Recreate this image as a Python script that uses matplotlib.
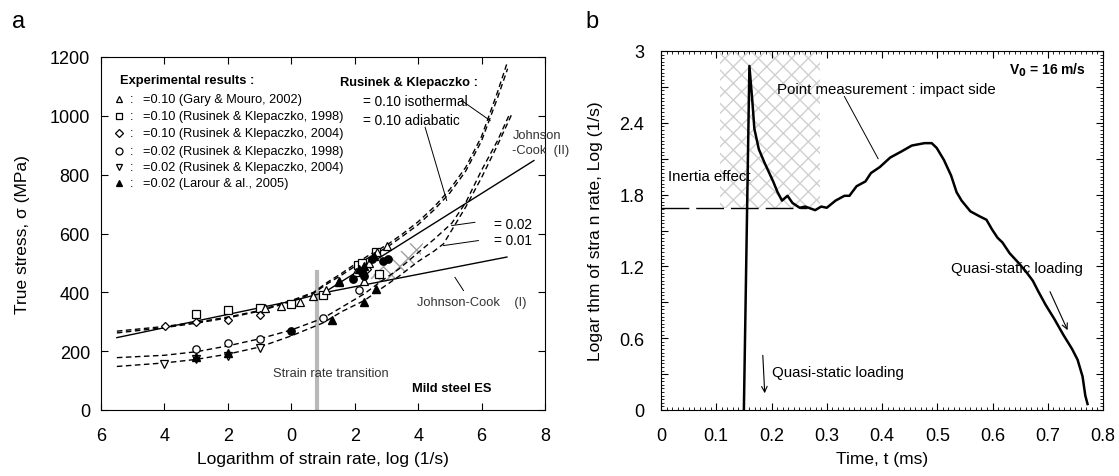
import matplotlib.pyplot as plt
from matplotlib.patches import Polygon, Rectangle
from matplotlib.ticker import MultipleLocator

plt.rcParams['font.family'] = ['Liberation Sans', 'DejaVu Sans']

# ---- panel a : experimental points (log strain rate, true stress MPa)
tri_x = [-0.84, -0.34, 0.28, 0.70, 1.08, 1.52, 2.05, 2.30, 2.71, 3.03, 2.45]
tri_y = [346, 352, 366, 386, 409, 440, 470, 440, 536, 559, 500]
sq_x = [-3.0, -2.0, -1.0, 0.0, 1.01, 2.1, 2.22, 2.66, 2.78]
sq_y = [326, 341, 347, 360, 391, 494, 500, 536, 461]
dia_x = [-3.99, -3.0, -1.99, -0.98, 2.4]
dia_y = [284, 300, 307, 323, 480]
circ_x = [-3.0, -2.0, -1.0, 1.0, 2.12]
circ_y = [207, 228, 241, 314, 408]
circf_x = [0.0, 1.96, 2.22, 2.3, 2.55, 2.9, 3.05]
circf_y = [269, 445, 468, 455, 514, 507, 513]
dtri_x = [-4.0, -3.0, -2.0, -1.0]
dtri_y = [158, 172, 182, 212]
trif_x = [-3.0, -2.0, 1.28, 1.52, 2.29, 2.67, 2.3, 2.6, 2.15]
trif_y = [181, 195, 307, 436, 368, 412, 489, 523, 480]

# model curves
jc1_x = [-5.5, 0.0, 1.0, 6.8]
jc1_y = [246, 370, 398, 520]
jc2_x = [1.0, 7.65]
jc2_y = [397, 848]
iso_x = [-5.5, -4, -3, -2, -1, 0, 0.7, 1.15, 1.55, 2.0, 2.5, 3.0, 3.5, 4.0,
         4.5, 5.0, 5.5, 6.0, 6.5, 6.8]
iso_y = [268, 284, 298, 316, 338, 372, 400, 435, 462, 495, 530, 560, 598, 640,
         690, 750, 825, 930, 1080, 1178]
adia_x = [-5.5, -4, -3, -2, -1, 0, 0.7, 1.15, 1.55, 2.0, 2.5, 3.0, 3.5, 4.0,
          4.5, 5.0, 5.5, 6.0, 6.5, 6.82]
adia_y = [262, 280, 295, 313, 336, 369, 397, 430, 456, 488, 522, 552, 590, 630,
          680, 738, 812, 915, 1060, 1160]
e02_x = [-5.5, -4, -3, -2, -1, 0, 1.0, 1.6, 2.3, 2.8, 3.4, 4.0, 4.5, 5.06, 5.5,
         6.0, 6.5, 6.9]
e02_y = [178, 186, 198, 218, 242, 272, 312, 350, 395, 435, 480, 535, 580, 635,
         705, 815, 915, 1010]
e01_x = [-5.5, -4, -3, -2, -1, 0, 1.0, 1.6, 2.3, 2.8, 3.4, 4.0, 4.5, 4.8, 5.5,
         6.0, 6.5, 6.95]
e01_y = [148, 160, 172, 190, 214, 252, 296, 335, 372, 410, 455, 505, 540, 565,
         690, 790, 900, 1005]

hatch_x = [2.48, 3.85, 4.17, 4.06, 3.22, 2.6]
hatch_y = [451, 576, 576, 513, 440, 434]

legend_labels = ['=0.10 (Gary & Mouro, 2002)',
                 '=0.10 (Rusinek & Klepaczko, 1998)',
                 '=0.10 (Rusinek & Klepaczko, 2004)',
                 '=0.02 (Rusinek & Klepaczko, 1998)',
                 '=0.02 (Rusinek & Klepaczko, 2004)',
                 '=0.02 (Larour & al., 2005)']
legend_markers = ['^', 's', 'D', 'o', 'v', '^']
legend_filled = [False, False, False, False, False, True]
legend_y = [1057, 999, 940, 882, 827, 771]

xticks_a = [-6, -4, -2, 0, 2, 4, 6, 8]
xticklabels_a = ['6', '4', '2', '0', '2', '4', '6', '8']

# ---- panel b : log strain rate vs time
t = [0.150, 0.160, 0.165, 0.169, 0.177, 0.187, 0.196, 0.203, 0.211, 0.219, 0.229,
     0.238, 0.251, 0.261, 0.279, 0.290, 0.300, 0.316, 0.332, 0.341, 0.354, 0.370,
     0.380, 0.396, 0.415, 0.435, 0.454, 0.477, 0.490, 0.499, 0.512, 0.525, 0.535,
     0.544, 0.560, 0.576, 0.589, 0.599, 0.609, 0.618, 0.631, 0.647, 0.660, 0.673,
     0.683, 0.696, 0.712, 0.728, 0.744, 0.754, 0.763, 0.768, 0.772]
rate = [0.0, 2.875, 2.6, 2.35, 2.18, 2.07, 1.98, 1.91, 1.82, 1.75, 1.79,
        1.73, 1.69, 1.70, 1.67, 1.70, 1.69, 1.75, 1.79, 1.79, 1.87, 1.91,
        1.98, 2.03, 2.11, 2.16, 2.21, 2.23, 2.23, 2.19, 2.09, 1.96, 1.82,
        1.75, 1.66, 1.62, 1.59, 1.51, 1.44, 1.40, 1.31, 1.23, 1.16, 1.08,
        0.99, 0.88, 0.76, 0.63, 0.51, 0.42, 0.28, 0.12, 0.05]
inertia_level = 1.685
xticks_b = [0, 0.1, 0.2, 0.3, 0.4, 0.5, 0.6, 0.7, 0.8]
xticklabels_b = ['0', '0.1', '0.2', '0.3', '0.4', '0.5', '0.6', '0.7', '0.8']
yticks_b = [0, 0.3, 0.6, 0.9, 1.2, 1.5, 1.8, 2.1, 2.4, 2.7, 3.0]
yticklabels_b = ['0', '', '0.6', '', '1.2', '', '1.8', '', '2.4', '', '3']

fig = plt.figure(figsize=(11.19, 4.77), dpi=100)
ax = fig.add_axes([101 / 1119, 66 / 477, 444 / 1119, 353 / 477])
bx = fig.add_axes([661 / 1119, 66 / 477, 442 / 1119, 359 / 477])

# ---------------- panel a
dash = (0, (4, 2.5))
ax.add_patch(Polygon(list(zip(hatch_x, hatch_y)), closed=True, fill=False,
                     hatch='xx', edgecolor='#a0a0a0', lw=0))
ax.plot([0.8, 0.8], [0, 468], color='#b8b8b8', lw=3, zorder=1)
ax.plot(jc1_x, jc1_y, color='black', lw=1)
ax.plot(jc2_x, jc2_y, color='black', lw=1)
for cx, cy in [(iso_x, iso_y), (adia_x, adia_y), (e02_x, e02_y), (e01_x, e01_y)]:
    ax.plot(cx, cy, color='black', lw=1, linestyle=dash)

ms = 5.3
ax.plot(sq_x, sq_y, 's', mfc='white', mec='black', ms=ms, mew=0.9)
ax.plot(dia_x, dia_y, 'D', mfc='white', mec='black', ms=ms - 0.8, mew=0.9)
ax.plot(tri_x, tri_y, '^', mfc='white', mec='black', ms=ms, mew=0.9)
ax.plot(circ_x, circ_y, 'o', mfc='white', mec='black', ms=ms, mew=0.9)
ax.plot(dtri_x, dtri_y, 'v', mfc='white', mec='black', ms=ms, mew=0.9)
ax.plot(circf_x, circf_y, 'o', color='black', ms=ms)
ax.plot(trif_x, trif_y, '^', color='black', ms=ms)

fs = 9.3
ax.text(-5.39, 1122, 'Experimental results :', fontsize=fs, fontweight='bold', va='center')
for lab, mk, filled, yy in zip(legend_labels, legend_markers, legend_filled, legend_y):
    ax.plot([-5.43], [yy], mk, mfc='black' if filled else 'white', mec='black',
            ms=5 if mk != 'D' else 4.5, mew=0.9)
    ax.text(-5.1, yy, ':', fontsize=fs, va='center')
    ax.text(-4.68, yy, lab, fontsize=9.2, va='center')

ax.text(1.54, 1114, 'Rusinek & Klepaczko :', fontsize=fs, fontweight='bold', va='center')
ax.text(2.27, 1052, '= 0.10 isothermal', fontsize=fs + 0.5, va='center')
ax.text(2.27, 987, '= 0.10 adiabatic', fontsize=fs + 0.5, va='center')
ax.plot([5.37, 6.27], [1052, 984], color='black', lw=0.7)
ax.plot([4.22, 4.9], [961, 712], color='black', lw=0.7)
ax.text(7.0, 935, 'Johnson', fontsize=fs, va='center', color='#333333', clip_on=False)
ax.text(6.95, 885, '-Cook  (II)', fontsize=fs, va='center', color='#333333', clip_on=False)
ax.text(6.4, 632, '= 0.02', fontsize=fs + 0.5, va='center')
ax.text(6.4, 578, '= 0.01', fontsize=fs + 0.5, va='center')
ax.plot([5.79, 5.06], [638, 627], color='black', lw=0.7)
ax.plot([5.9, 4.8], [576, 559], color='black', lw=0.7)
ax.text(3.96, 366, 'Johnson-Cook    (I)', fontsize=fs, va='center', color='#333333')
ax.plot([5.16, 5.43], [451, 406], color='black', lw=0.7)
ax.text(-0.57, 127, 'Strain rate transition', fontsize=fs, va='center', color='#333333')
ax.text(3.8, 74, 'Mild steel ES', fontsize=fs, fontweight='bold', va='center')

ax.set_xlim(-6, 8)
ax.set_ylim(0, 1200)
ax.set_xticks(xticks_a)
ax.set_xticklabels(xticklabels_a)
ax.yaxis.set_major_locator(MultipleLocator(200))
ax.tick_params(direction='in', top=True, right=True, labelsize=13, length=5)
ax.tick_params(axis='x', pad=12)
ax.tick_params(axis='y', pad=8)
ax.set_xlabel('Logarithm of strain rate, log (1/s)', fontsize=12.5, labelpad=5)
ax.set_ylabel('True stress, σ (MPa)', fontsize=12.5, labelpad=14)

# ---------------- panel b
bx.add_patch(Rectangle((0.106, inertia_level), 0.287 - 0.106, 3 - inertia_level,
                       fill=False, hatch='xx', edgecolor='#d0d0d0', lw=0))
bx.plot([0, 0.265], [inertia_level, inertia_level], color='black', lw=1,
        linestyle=(0, (20, 5)))
bx.plot(t, rate, color='black', lw=1.8)
fb = 10.8
bx.text(0.77, 2.85, 'V$_\\mathbf{0}$ = 16 m/s', fontsize=10, fontweight='bold',
        ha='right', va='center')
bx.text(0.21, 2.68, 'Point measurement : impact side', fontsize=fb, va='center')
bx.plot([0.332, 0.393], [2.62, 2.10], color='black', lw=0.7)
bx.text(0.013, 1.955, 'Inertia effect', fontsize=fb, va='center')
bx.text(0.524, 1.19, 'Quasi-static loading', fontsize=fb, va='center')
bx.annotate('', xy=(0.738, 0.646), xytext=(0.702, 1.01),
            arrowprops=dict(arrowstyle='->', color='black', lw=0.8))
bx.text(0.2016, 0.318, 'Quasi-static loading', fontsize=fb, va='center')
bx.annotate('', xy=(0.188, 0.117), xytext=(0.184, 0.48),
            arrowprops=dict(arrowstyle='->', color='black', lw=0.8))

bx.set_xlim(0, 0.8)
bx.set_ylim(0, 3)
bx.set_xticks(xticks_b)
bx.set_xticklabels(xticklabels_b)
bx.set_yticks(yticks_b)
bx.set_yticklabels(yticklabels_b)
bx.xaxis.set_minor_locator(MultipleLocator(0.01))
bx.yaxis.set_minor_locator(MultipleLocator(0.03))
bx.tick_params(which='both', direction='in', top=True, right=True)
bx.tick_params(which='major', labelsize=13, length=5)
bx.tick_params(axis='x', which='major', pad=12)
bx.tick_params(axis='y', which='major', pad=12)
bx.tick_params(which='minor', length=2.5)
bx.set_xlabel('Time, t (ms)', fontsize=12.5, labelpad=5)
bx.set_ylabel('Logar thm of stra n rate, Log (1/s)', fontsize=12.5, labelpad=12)

fig.text(12 / 1119, 1 - 22 / 477, 'a', fontsize=17, va='center')
fig.text(585 / 1119, 1 - 22 / 477, 'b', fontsize=17, va='center')

fig.savefig('out.png', dpi=100)
